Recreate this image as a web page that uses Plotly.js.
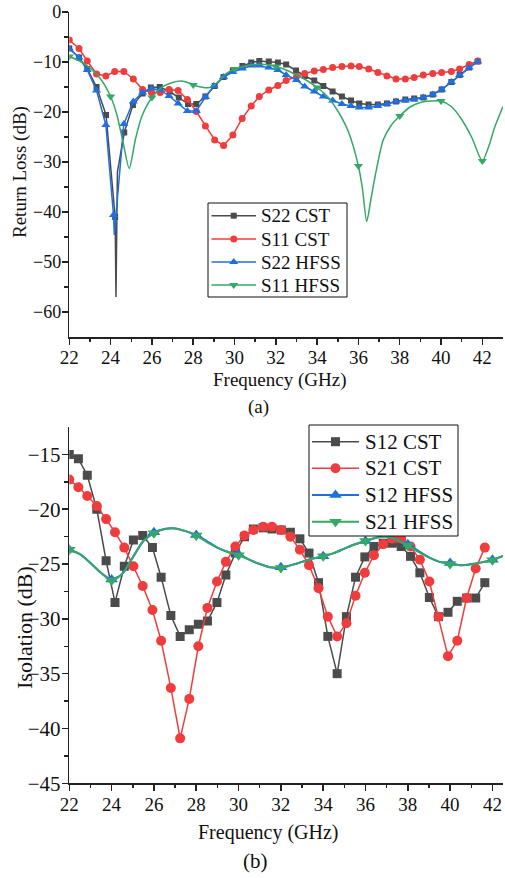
<!DOCTYPE html>
<html>
<head>
<meta charset="utf-8">
<script src="https://cdn.plot.ly/plotly-3.0.1.min.js"></script>
<style>html,body{margin:0;padding:0;background:#fff;}#chart{width:505px;height:878px;}</style>
</head>
<body>
<div id="chart"></div>
<script>
// ---------- (a) Return loss ----------
const s22CstX = [22, 22.47, 22.87, 23.32, 23.78, 24.22, 24.66, 25.08, 25.55, 25.95, 26.38, 26.86, 27.3, 27.75, 28.15, 28.59, 29.04, 29.47, 29.92, 30.38, 30.81, 31.2, 31.66, 32.1, 32.5, 32.98, 33.4, 33.86, 34.3, 34.75, 35.2, 35.64, 36.04, 36.49, 36.94, 37.38, 37.82, 38.27, 38.7, 39.14, 39.6, 40.03, 40.5, 40.9, 41.36, 41.78];
const s22CstY = [-7.3, -9.1, -11.4, -15.0, -20.6, -41, -24.1, -18.6, -16.3, -15.1, -15.0, -15.9, -17.1, -18.4, -18.4, -16.9, -14.8, -13.0, -11.7, -10.8, -10.1, -9.8, -9.9, -10.1, -10.5, -11.7, -12.8, -13.7, -14.8, -15.9, -16.9, -17.7, -18.3, -18.5, -18.5, -18.3, -17.9, -17.5, -17.3, -17.1, -16.5, -15.5, -14.0, -12.6, -11.1, -9.9];
const s22CstDipX = [24.26, 24.33];
const s22CstDipY = [-57, -32];

const s11CstX = [22, 22.47, 22.87, 23.32, 23.77, 24.2, 24.64, 25.1, 25.55, 25.98, 26.4, 26.83, 27.27, 27.72, 28.15, 28.59, 29.04, 29.47, 29.92, 30.37, 30.81, 31.2, 31.66, 32.1, 32.5, 33.0, 33.4, 33.86, 34.3, 34.75, 35.2, 35.64, 36.04, 36.5, 36.94, 37.38, 37.82, 38.27, 38.7, 39.14, 39.6, 40.03, 40.5, 40.9, 41.36, 41.78];
const s11CstY = [-5.6, -7.3, -9.8, -12.4, -12.8, -11.9, -11.9, -13.4, -15.5, -16.1, -16.1, -15.5, -15.7, -17.5, -19.9, -22.8, -25.6, -26.7, -24.6, -21.3, -18.8, -16.9, -15.6, -14.7, -13.7, -12.9, -12.3, -11.8, -11.5, -11.1, -10.9, -10.8, -10.9, -11.4, -12.1, -12.8, -13.4, -13.4, -13.1, -12.6, -12.3, -12.1, -11.9, -11.4, -10.5, -9.8];

const s22HfssX = [22, 22.47, 22.87, 23.32, 23.77, 24.14, 24.64, 25.1, 25.55, 25.98, 26.4, 26.83, 27.27, 27.72, 28.15, 28.59, 29.0, 29.47, 29.92, 30.38, 30.81, 31.2, 31.66, 32.1, 32.5, 33.0, 33.4, 33.86, 34.3, 34.75, 35.2, 35.64, 36.04, 36.5, 36.94, 37.38, 37.82, 38.27, 38.7, 39.14, 39.6, 40.03, 40.5, 40.9, 41.36, 41.78];
const s22HfssY = [-7.3, -9.1, -11.6, -15.7, -22.6, -40.6, -22.4, -17.9, -16.1, -15.3, -15.6, -16.8, -18.3, -19.8, -19.8, -17.0, -14.8, -13.0, -12.0, -11.3, -10.7, -10.7, -11.1, -11.6, -12.6, -13.6, -14.9, -15.9, -16.9, -17.7, -18.4, -18.8, -19.1, -19.1, -18.8, -18.4, -17.9, -17.7, -17.5, -17.1, -16.5, -15.5, -14.0, -12.6, -11.1, -9.9];
const s22HfssDipX = [24.18];
const s22HfssDipY = [-44.6];

const s11HfssX = [22, 22.5, 23, 23.5, 24, 24.3, 24.6, 24.9, 25.2, 25.5, 26, 26.5, 27, 27.4, 27.8, 28, 28.5, 28.8, 29.2, 29.6, 30, 30.5, 31, 31.5, 32, 32.5, 33, 33.5, 34, 34.5, 35, 35.5, 36, 36.2, 36.4, 36.6, 36.8, 37.2, 37.6, 38, 38.5, 39, 39.5, 40, 40.5, 41, 41.5, 42, 42.3, 42.6, 43];
const s11HfssY = [-8.9, -9.8, -11.2, -13.3, -16.9, -20.5, -26, -31.3, -25.5, -21, -17.1, -15.0, -14.1, -13.8, -14.2, -14.6, -15.1, -15.1, -14.0, -12.3, -11.4, -10.8, -10.5, -10.5, -10.9, -11.6, -12.6, -13.7, -15.1, -16.9, -19.8, -23.8, -30.8, -35.5, -41.9, -37.6, -33, -25.6, -22.6, -20.8, -19.0, -18.1, -17.8, -17.8, -18.9, -21.5, -25.2, -29.8, -27, -23, -18.9];

// ---------- (b) Isolation ----------
const isoCstX = [22, 22.43, 22.85, 23.3, 23.74, 24.16, 24.6, 25.03, 25.47, 25.93, 26.34, 26.8, 27.24, 27.67, 28.1, 28.53, 28.98, 29.4, 29.85, 30.28, 30.7, 31.16, 31.58, 32.02, 32.45, 32.9, 33.33, 33.78, 34.22, 34.66, 35.1, 35.53, 35.97, 36.4, 36.84, 37.27, 37.69, 38.13, 38.57, 39.02, 39.45, 39.9, 40.34, 40.78, 41.21, 41.64];
const s12CstY = [-15.0, -15.4, -16.9, -20.0, -24.7, -28.5, -25.2, -22.8, -22.4, -23.5, -26.2, -29.7, -31.6, -31.0, -30.5, -30.2, -28.5, -26.0, -24.0, -22.5, -21.8, -21.7, -21.8, -21.9, -22.1, -22.7, -24.0, -26.7, -31.6, -35.0, -29.8, -26.2, -24.35, -23.4, -23.1, -23.1, -23.4, -24.3, -25.8, -28.05, -29.8, -29.4, -28.4, -28.1, -28.1, -26.7];
const s21CstY = [-17.3, -18.0, -18.8, -19.7, -20.9, -22.1, -23.5, -25.2, -27.0, -29.2, -32.0, -36.3, -40.9, -37.3, -32.5, -29.0, -26.6, -24.8, -23.4, -22.4, -21.9, -21.6, -21.6, -21.9, -22.5, -23.7, -25.1, -27.2, -29.8, -31.6, -30.4, -27.9, -25.8, -24.2, -23.2, -22.7, -22.7, -23.4, -24.6, -26.6, -29.8, -33.4, -32.0, -28.1, -25.4, -23.5];

const isoHfssX = [22, 22.5, 23, 23.5, 24, 24.5, 25, 25.5, 26, 26.5, 27, 27.5, 28, 28.5, 29, 29.5, 30, 30.5, 31, 31.5, 32, 32.5, 33, 33.5, 34, 34.5, 35, 35.5, 36, 36.5, 37, 37.5, 38, 38.5, 39, 39.5, 40, 40.5, 41, 41.5, 42, 42.5];
const s12HfssY = [-23.7, -24.1, -24.9, -25.8, -26.4, -25.9, -24.4, -22.9, -22.1, -21.8, -21.75, -22.0, -22.35, -22.9, -23.5, -23.9, -24.1, -24.6, -25.0, -25.3, -25.3, -25.1, -24.8, -24.5, -24.3, -24.0, -23.6, -23.2, -22.9, -22.6, -22.5, -22.8, -23.2, -23.8, -24.4, -24.8, -24.9, -25.1, -25.0, -24.85, -24.6, -24.25];
const s21HfssY = [-23.7, -24.1, -24.9, -25.8, -26.5, -25.9, -24.4, -22.9, -22.2, -21.8, -21.75, -22.0, -22.4, -23.0, -23.5, -23.9, -24.2, -24.6, -25.0, -25.3, -25.35, -25.1, -24.8, -24.5, -24.3, -24.0, -23.6, -23.2, -22.9, -22.6, -22.5, -22.8, -23.3, -23.9, -24.4, -24.8, -25.0, -25.1, -25.05, -24.85, -24.65, -24.25];

const legendA = ['S22 CST', 'S11 CST', 'S22 HFSS', 'S11 HFSS'];
const legendB = ['S12 CST', 'S21 CST', 'S12 HFSS', 'S21 HFSS'];

// ---------- styling ----------
const C_BLACK = '#4b4b4b', C_RED = '#f03c3c', C_BLUE = '#1f6fe0', C_GREEN = '#35a766';
const FONT = 'Liberation Serif, Times New Roman, serif';
const W = 505, H = 878;
const px = v => v / W, py = v => 1 - v / H;

function merge(x, y, ex, ey) {
  const pts = x.map((v, i) => ({x: v, y: y[i], m: true}));
  (ex || []).forEach((v, i) => pts.push({x: v, y: ey[i], m: false}));
  pts.sort((a, b) => a.x - b.x);
  return pts;
}

function markedTrace(x, y, ex, ey, name, color, symbol, size, lw, xa, ya) {
  const pts = merge(x, y, ex, ey);
  return {
    type: 'scatter', mode: 'lines+markers', name: name, showlegend: false,
    x: pts.map(p => p.x), y: pts.map(p => p.y),
    xaxis: xa, yaxis: ya,
    line: {color: color, width: lw},
    marker: {color: color, opacity: 1, symbol: symbol, size: pts.map(p => p.m ? size : 0), line: {width: 0}}
  };
}

function sparseTrace(x, y, name, color, symbol, size, lw, xa, ya) {
  return {type: 'scatter', mode: 'lines+markers', name: name, x: x, y: y, xaxis: xa, yaxis: ya,
     showlegend: false,
     line: {color: color, width: lw, shape: 'spline', smoothing: 0.7},
     marker: {color: color, opacity: 1, symbol: symbol, size: x.map(v => (Math.abs(v % 2) < 1e-9) ? size : 0), line: {width: 0}}};
}

const traces = [
  markedTrace(s22CstX, s22CstY, s22CstDipX, s22CstDipY, legendA[0], C_BLACK, 'square', 6, 1.5, 'x', 'y'),
  markedTrace(s11CstX, s11CstY, null, null, legendA[1], C_RED, 'circle', 7, 1.5, 'x', 'y'),
  markedTrace(s22HfssX, s22HfssY, s22HfssDipX, s22HfssDipY, legendA[2], C_BLUE, 'triangle-up', 8, 1.5, 'x', 'y'),
  sparseTrace(s11HfssX, s11HfssY, legendA[3], C_GREEN, 'triangle-down', 8, 1.5, 'x', 'y'),
  markedTrace(isoCstX, s12CstY, null, null, legendB[0], C_BLACK, 'square', 9, 1.5, 'x2', 'y2'),
  markedTrace(isoCstX, s21CstY, null, null, legendB[1], C_RED, 'circle', 10, 1.5, 'x2', 'y2'),
  sparseTrace(isoHfssX, s12HfssY, legendB[2], C_BLUE, 'triangle-up', 11, 2, 'x2', 'y2'),
  sparseTrace(isoHfssX, s21HfssY, legendB[3], C_GREEN, 'triangle-down', 11, 2, 'x2', 'y2')
];

function vals(a, b, s) { const r = []; for (let v = a; s > 0 ? v <= b + 1e-9 : v >= b - 1e-9; v += s) r.push(Math.round(v * 100) / 100); return r; }

function axis(extra, t0, dt, mv, fs) {
  return Object.assign({
    showline: true, linecolor: '#222', linewidth: 1.5, mirror: false,
    showgrid: false, zeroline: false,
    ticks: 'outside', ticklen: 6, tickwidth: 1.5, tickcolor: '#222',
    tickmode: 'linear', tick0: t0, dtick: dt, ticklabelstandoff: -3,
    tickfont: {family: FONT, size: fs, color: '#111'},
    minor: {tickmode: 'array', tickvals: mv, ticks: 'outside', ticklen: 3.5, tickwidth: 1.5, tickcolor: '#222', showgrid: false},
    fixedrange: true
  }, extra);
}

// ---------- hand-drawn legend boxes (shapes + text annotations) ----------
const shapes = [], annotations = [];
function markerShape(sym, cx, cy, size, color) {
  const r = size / 2;
  const P = (x, y) => px(x) + ',' + py(y);
  let path;
  if (sym === 'square') path = 'M' + P(cx - r, cy - r) + 'L' + P(cx + r, cy - r) + 'L' + P(cx + r, cy + r) + 'L' + P(cx - r, cy + r) + 'Z';
  else if (sym === 'triangle-up') { const rt = r * 2 / Math.sqrt(3); path = 'M' + P(cx - rt, cy + r / 2) + 'L' + P(cx + rt, cy + r / 2) + 'L' + P(cx, cy - r) + 'Z'; }
  else if (sym === 'triangle-down') { const rt = r * 2 / Math.sqrt(3); path = 'M' + P(cx - rt, cy - r / 2) + 'L' + P(cx + rt, cy - r / 2) + 'L' + P(cx, cy + r) + 'Z'; }
  if (sym === 'circle') return {type: 'circle', xref: 'paper', yref: 'paper', x0: px(cx - r), x1: px(cx + r), y0: py(cy - r), y1: py(cy + r), fillcolor: color, line: {width: 0}, layer: 'above'};
  return {type: 'path', xref: 'paper', yref: 'paper', path: path, fillcolor: color, line: {width: 0}, layer: 'above'};
}
function drawLegend(box, names, styles, rows, lineX, textX, fs) {
  shapes.push({type: 'rect', xref: 'paper', yref: 'paper', x0: px(box[0]), x1: px(box[2]), y0: py(box[3]), y1: py(box[1]),
               fillcolor: '#fff', line: {color: '#111', width: 1}, layer: 'above'});
  names.forEach((n, i) => {
    const s = styles[i], y = rows[i];
    shapes.push({type: 'line', xref: 'paper', yref: 'paper', x0: px(lineX[0]), x1: px(lineX[1]), y0: py(y), y1: py(y),
                 line: {color: s[0], width: s[3]}, layer: 'above'});
    shapes.push(markerShape(s[1], (lineX[0] + lineX[1]) / 2, y, s[2], s[0]));
    annotations.push({text: n, x: px(textX), y: py(y), xref: 'paper', yref: 'paper', showarrow: false,
                      xanchor: 'left', yanchor: 'middle', font: {family: FONT, size: fs, color: '#111'}});
  });
}
drawLegend([208, 203, 347, 297], legendA,
  [[C_BLACK, 'square', 6, 1.5], [C_RED, 'circle', 7, 1.5], [C_BLUE, 'triangle-up', 8, 1.5], [C_GREEN, 'triangle-down', 8, 1.5]],
  [215.7, 239, 262, 285], [211.5, 256], 259, 19);
drawLegend([309, 425, 458, 536], legendB,
  [[C_BLACK, 'square', 9, 1.5], [C_RED, 'circle', 10, 1.5], [C_BLUE, 'triangle-up', 11, 2], [C_GREEN, 'triangle-down', 11, 2]],
  [441.7, 468.3, 495, 521.7], [312, 359], 363, 21);

// ---------- axis titles and captions ----------
const T = (text, x, y, fs, ang) => ({text: text, x: px(x), y: py(y), xref: 'paper', yref: 'paper', showarrow: false,
  textangle: ang || 0, xanchor: 'center', yanchor: 'middle', font: {family: FONT, size: fs, color: '#111'}});
annotations.push(
  T('Return Loss (dB)', 20, 172, 19, -90),
  T('Frequency (GHz)', 279, 380, 19),
  T('(a)', 258, 407, 19),
  T('Isolation (dB)', 24, 628, 22, -90),
  T('Frequency (GHz)', 268, 832, 20),
  T('(b)', 255, 861, 21)
);

const xDom = [px(69.3), px(503)];
const layout = {
  width: W, height: H,
  margin: {l: 0, r: 0, t: 0, b: 0},
  paper_bgcolor: '#fff', plot_bgcolor: '#fff',
  font: {family: FONT, size: 19, color: '#111'},
  showlegend: false,
  xaxis: axis({domain: xDom, range: [22, 43], anchor: 'y'}, 22, 2, vals(23, 41, 2), 19),
  yaxis: axis({domain: [py(337), py(12)], range: [-65, 0], anchor: 'x'}, 0, 10, vals(-5, -55, -10), 18),
  xaxis2: axis({domain: xDom, range: [22, 42.5], anchor: 'y2'}, 22, 2, vals(23, 41, 2), 19),
  yaxis2: axis({domain: [py(783.3), py(427)], range: [-45, -12.5], anchor: 'x2'}, -45, 5, vals(-17.5, -42.5, -5), 21),
  shapes: shapes,
  annotations: annotations
};

Plotly.newPlot('chart', traces, layout, {staticPlot: true, displayModeBar: false});
</script>
</body>
</html>
